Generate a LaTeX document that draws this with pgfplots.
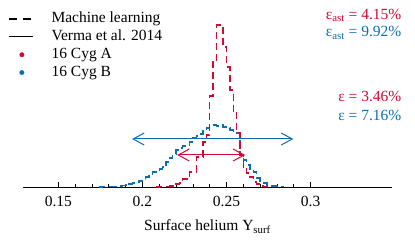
\documentclass[border=0pt]{standalone}
\usepackage{fontspec}
\setmainfont{Liberation Serif}
\usepackage{pgfplots}
\pgfplotsset{compat=1.18}
\usetikzlibrary{arrows.meta}
\definecolor{cA}{RGB}{210,10,50}
\definecolor{cB}{RGB}{10,110,180}
\begin{document}
\fontsize{15.5}{18}\selectfont
\begin{tikzpicture}
\useasboundingbox (0,0) rectangle (415pt,248pt);
\begin{axis}[
  at={(23pt,61pt)}, anchor=south west,
  scale only axis, width=369pt, height=185pt,
  xmin=0.129, xmax=0.3484, ymin=0, ymax=185,
  hide y axis,
  axis x line*=bottom,
  x axis line style={-, line width=0.8pt},
  xtick={0.15,0.2,0.25,0.3},
  xticklabels={0.15,0.2,0.25,0.3},
  minor x tick num=4,
  tick align=inside,
  major tick length=5pt, minor tick length=3pt,
  tick style={black, line width=0.6pt},
  xticklabel style={anchor=base, yshift=-20pt, inner sep=0pt},
  /pgf/number format/assume math mode=true,
  xlabel={Surface helium Y\textsubscript{surf}},
  xlabel style={at={(axis description cs:0.5,-0.235)}, anchor=base, inner sep=0pt},
  legend image code/.code={\draw[#1] (0pt,0pt) -- (24pt,0pt);},
  legend style={at={(axis description cs:-0.0407,0.949)}, anchor=north west,
    draw=none, fill=none, inner sep=0pt, row sep=2.8pt,
    nodes={inner sep=0pt, text height=11pt, text depth=4pt},
    /tikz/every odd column/.append style={column sep=18pt}},
  legend cell align=left,
  clip=false,
]
\addlegendimage{black, line width=1.4pt, dash pattern=on 8pt off 6pt}
\addlegendentry{Machine learning}
\addlegendimage{black, line width=1pt}
\addlegendentry{Verma et al. 2014}
\addlegendimage{legend image code/.code={\fill[cA] (13pt,0pt) circle (2.2pt);}}
\addlegendentry{16 Cyg A}
\addlegendimage{legend image code/.code={\fill[cB] (13pt,0pt) circle (2.2pt);}}
\addlegendentry{16 Cyg B}

% 16 Cyg B histogram
\addplot[cB, line width=1.4pt, dash pattern=on 7pt off 4pt, const plot, forget plot] table {
x y
0.174 0
0.176 0.5
0.178 0.5
0.180 0.5
0.182 0.5
0.184 0.5
0.186 1
0.188 1.5
0.190 2
0.192 3
0.194 4
0.196 5
0.198 6
0.200 8
0.202 10
0.204 12
0.206 15
0.208 17
0.210 18
0.212 20
0.214 25
0.216 29
0.218 33
0.220 37
0.222 39
0.224 41
0.226 42
0.228 45
0.230 49
0.232 51
0.234 53
0.236 56
0.238 59
0.240 62
0.242 62
0.244 61
0.246 62
0.248 60
0.250 59
0.252 57
0.254 56
0.256 54
0.258 32
0.260 27
0.262 22
0.264 18
0.266 15
0.268 9
0.270 6
0.272 4
0.274 2
0.276 1
0.278 1
0.280 0.5
0.282 0.5
0.284 0
};
% 16 Cyg A histogram
\addplot[cA, line width=1.4pt, dash pattern=on 7pt off 4pt, const plot, forget plot] table {
x y
0.208 0
0.210 0.5
0.212 0.5
0.214 0.5
0.216 1
0.218 1
0.220 3
0.222 4
0.224 8
0.226 8
0.228 15
0.230 15
0.232 30
0.234 30
0.236 45
0.238 52
0.240 91
0.242 125
0.244 162
0.246 162
0.248 140
0.250 120
0.252 97
0.254 74
0.256 54
0.258 32
0.260 20
0.262 14
0.264 10
0.266 5
0.268 3
0.270 1
0.272 0.5
0.274 0
};
% Verma et al. 2014 ranges
\addplot[cB, line width=1pt, {Straight Barb[length=11pt,width=12pt,line width=1pt]}-{Straight Barb[length=11pt,width=12pt,line width=1pt]}, forget plot]
  coordinates {(0.1939,48) (0.2897,48)};
\addplot[cA, line width=1pt, {Straight Barb[length=11pt,width=12pt,line width=1pt]}-{Straight Barb[length=11pt,width=12pt,line width=1pt]}, forget plot]
  coordinates {(0.2207,32) (0.2611,32)};

\node[anchor=base east, inner sep=0pt, text=cA] at (axis description cs:1.026,0.908) {ε\textsubscript{ast} = 4.15\%};
\node[anchor=base east, inner sep=0pt, text=cB] at (axis description cs:1.026,0.811) {ε\textsubscript{ast} = 9.92\%};
\node[anchor=base east, inner sep=0pt, text=cA] at (axis description cs:1.026,0.461) {ε = 3.46\%};
\node[anchor=base east, inner sep=0pt, text=cB] at (axis description cs:1.026,0.362) {ε = 7.16\%};
\end{axis}
\end{tikzpicture}
\end{document}
